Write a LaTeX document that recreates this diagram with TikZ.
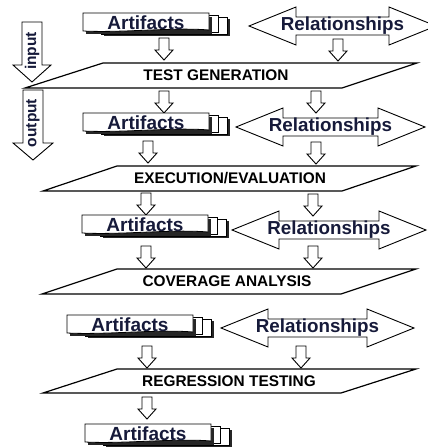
\documentclass[tikz,border=0pt]{standalone}
\usepackage{fontspec}
\setmainfont{Liberation Sans}[BoldFont={Liberation Sans Bold}]
\newfontfamily\heavysans{Liberation Sans Bold}
\begin{document}
\definecolor{inkblue}{RGB}{22,26,58}
\tikzset{
  outline/.style={draw=black, line width=0.9pt, fill=white, line join=miter},
  procline/.style={draw=black, line width=1.2pt, line join=miter},
  sheet/.style={draw=black, line width=0.8pt, fill=white},
  sheetshadow/.style={fill=black!85},
  arttext/.style={font=\heavysans\fontsize{19}{19}\selectfont, text=inkblue, inner sep=0pt},
  reltext/.style={font=\heavysans\fontsize{18.8}{19}\selectfont, text=inkblue, inner sep=0pt},
  proctext/.style={font=\heavysans\fontsize{15.4}{16}\selectfont, text=black, inner sep=0pt},
  iotext/.style={font=\heavysans\fontsize{15.5}{16}\selectfont, text=inkblue, inner sep=0pt, rotate=90}
}
% stacked documents labelled "Artifacts": name, left, top
\newcommand\artdoc[3]{%
  \begin{scope}[shift={(#2,#3)}]
    \fill[sheetshadow] (21,6) rectangle (147,23);
    \draw[sheet] (18,4) -- (144,4) -- (144,21) -- (18,21) -- cycle;
    \draw[sheet] (9,2) -- (135,2) -- (135,19) -- (9,19) -- cycle;
    \fill[sheetshadow] (3,4) rectangle (129,21);
    \draw[sheet] (0,0) -- (126,0) -- (126,17)
      .. controls (90,14) and (40,20) .. (0,18) -- cycle;
  \end{scope}
  \node[arttext] (#1) at (#2+63,#3+9.5) {Artifacts};
}
% two-headed block arrow labelled "Relationships": name, left tip, right tip, mid y
\newcommand\relarrow[4]{%
  \draw[outline] (#2,#4) -- (#2+47,#4-19) -- (#2+47,#4-9) -- (#3-47,#4-9)
    -- (#3-47,#4-19) -- (#3,#4) -- (#3-47,#4+19) -- (#3-47,#4+9)
    -- (#2+47,#4+9) -- (#2+47,#4+19) -- cycle;
  \node[reltext] (#1) at ({(#2+#3)/2},#4) {Relationships};
}
% small hollow arrow pointing down: name, centre x, top y
\newcommand\blockdown[3]{%
  \coordinate (#1) at (#2,#3);
  \draw[outline] (#2-5,#3) -- (#2+5,#3) -- (#2+5,#3+12) -- (#2+9,#3+12)
    -- (#2,#3+22) -- (#2-9,#3+12) -- (#2-5,#3+12) -- cycle;
}
\begin{tikzpicture}[x=1pt,y=-1pt]
  \useasboundingbox (0,0) rectangle (428,447);
  \clip (0,0) rectangle (428,447);

  % input / output arrows on the left
  \draw[outline] (22,22) -- (42,22) -- (42,65) -- (51,65) -- (32,82)
    -- (13,65) -- (22,65) -- cycle;
  \node[iotext] (input) at (32,51) {input};
  \draw[outline] (23,90) -- (43,90) -- (43,143) -- (53,143) -- (33,160)
    -- (13,143) -- (23,143) -- cycle;
  \node[iotext] (output) at (33,123) {output};

  % row 1
  \artdoc{art1}{83}{13}
  \relarrow{rel1}{249}{436}{26}
  \blockdown{d1}{164}{38}
  \blockdown{d2}{338}{39}

  % test generation
  \draw[procline] (103,63) -- (417,63) -- (342,88) -- (25,88) -- cycle;
  \node[proctext] (tg) at (216,75.5) {TEST GENERATION};
  \blockdown{d3}{164}{91}
  \blockdown{d4}{316}{91}

  % row 2
  \artdoc{art2}{83}{113}
  \relarrow{rel2}{236}{425}{127}
  \blockdown{d5}{148}{141}
  \blockdown{d6}{316}{142}

  % execution / evaluation
  \draw[procline] (117,166) -- (416,166) -- (342,191) -- (43,191) -- cycle;
  \node[proctext] (ee) at (230,178.5) {EXECUTION/EVALUATION};
  \blockdown{d7}{146}{193}
  \blockdown{d8}{313}{194}

  % row 3
  \artdoc{art3}{82}{215}
  \relarrow{rel3}{232}{426}{230}
  \blockdown{d9}{146}{246}
  \blockdown{d10}{313}{246}

  % coverage analysis
  \draw[procline] (117,269) -- (416,269) -- (341,294) -- (42,294) -- cycle;
  \node[proctext] (ca) at (227,281.5) {COVERAGE ANALYSIS};

  % row 4
  \artdoc{art4}{67}{315}
  \relarrow{rel4}{221}{414}{328}
  \blockdown{d11}{147}{346}
  \blockdown{d12}{301}{346}

  % regression testing
  \draw[procline] (117,369) -- (416,369) -- (341,393) -- (43,393) -- cycle;
  \node[proctext] (rt) at (229,381) {REGRESSION TESTING};
  \blockdown{d13}{147}{397}

  % row 5
  \artdoc{art5}{85}{424}
\end{tikzpicture}
\end{document}
